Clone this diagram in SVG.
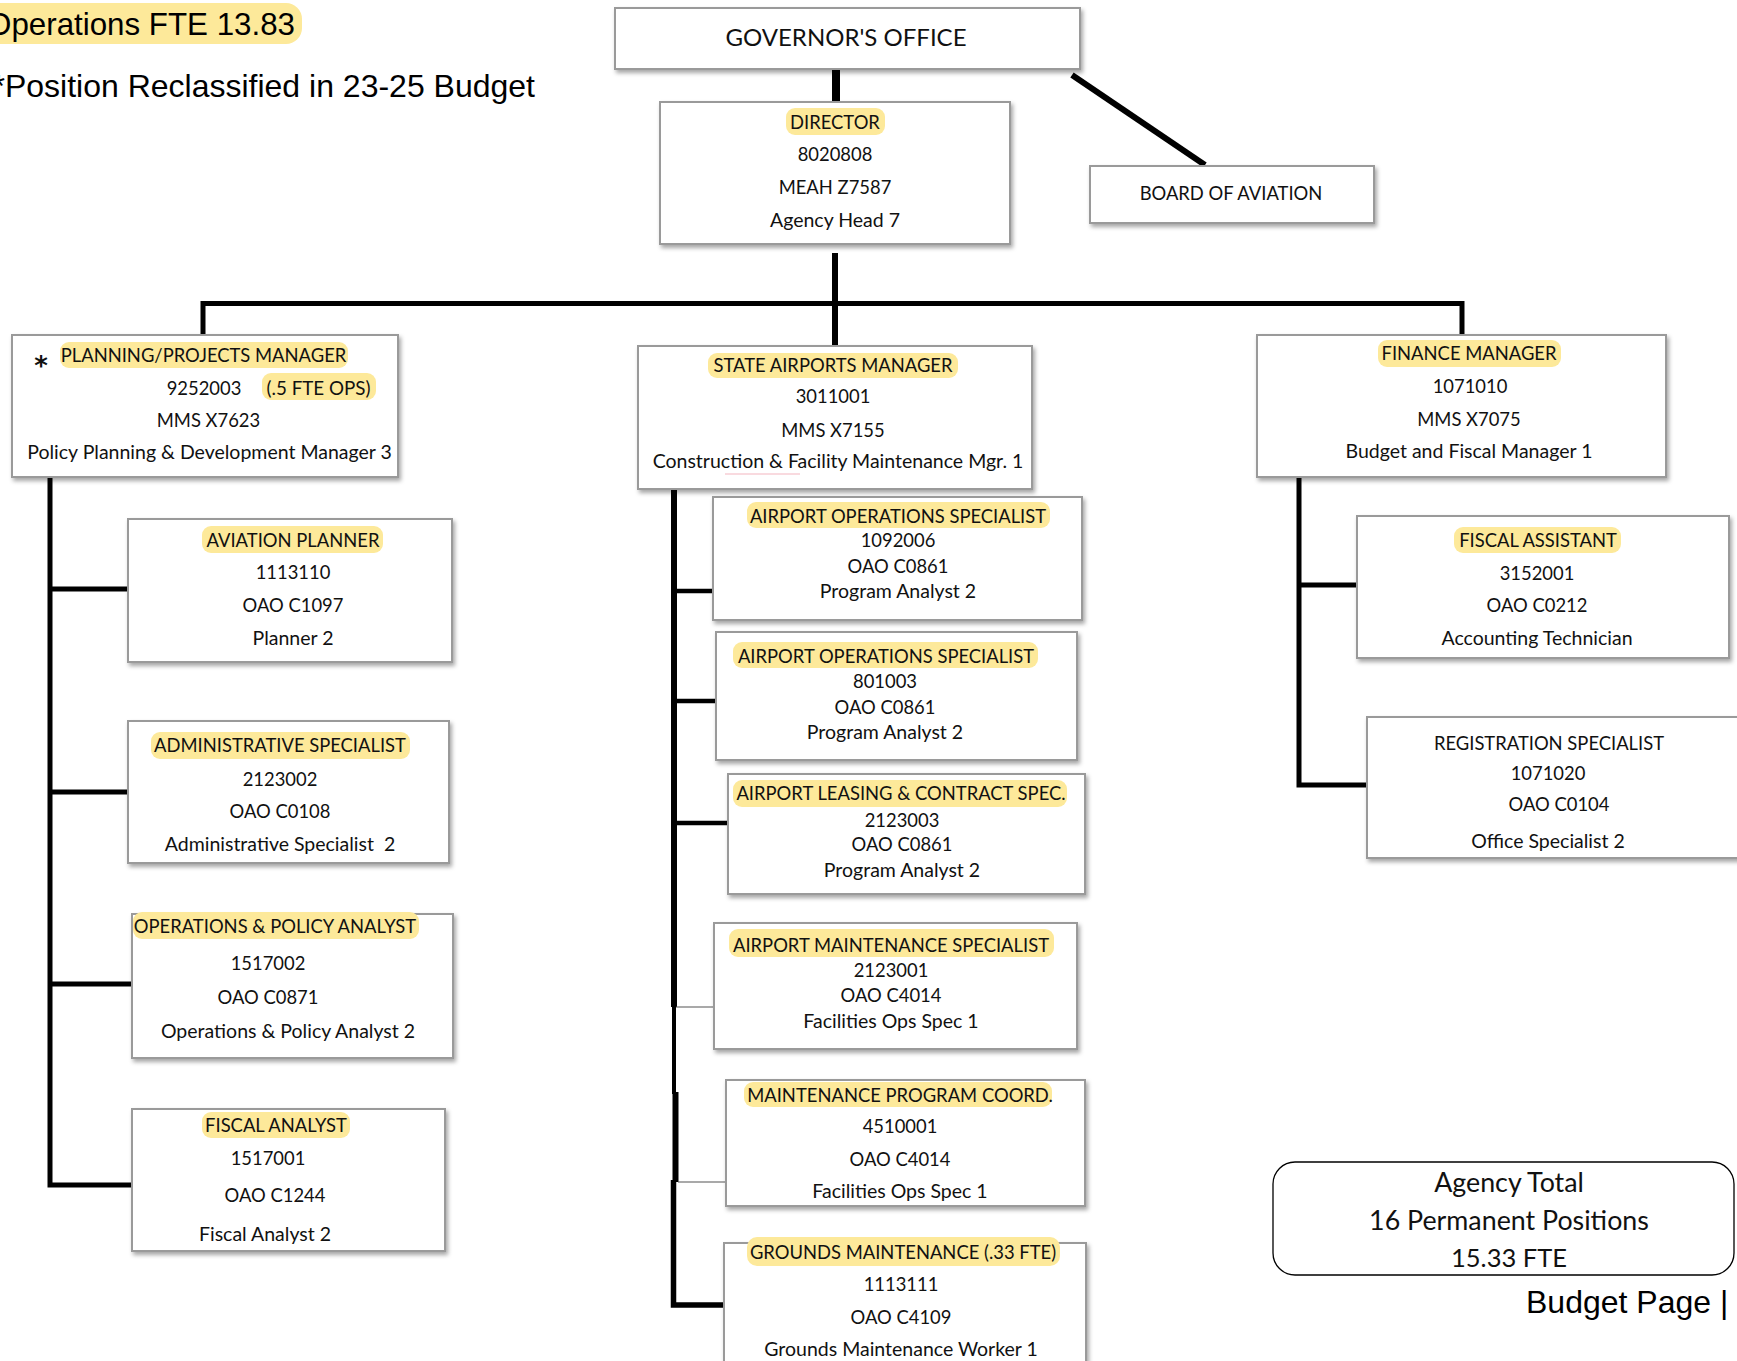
<svg xmlns="http://www.w3.org/2000/svg" width="1737" height="1361" viewBox="0 0 1737 1361">
<defs>
<filter id="sh" x="-5%" y="-5%" width="115%" height="125%">
<feDropShadow dx="2" dy="3" stdDeviation="2" flood-color="#000" flood-opacity="0.35"/>
</filter>
<style>
.box{fill:#fff;stroke:#9a9a9a;stroke-width:2;filter:url(#sh)}
.hl{fill:#fde99a}
.t{font-family:Lato,"Open Sans","Liberation Sans",sans-serif;font-size:18.4px;fill:#111;text-anchor:middle}
.m{font-family:Lato,"Open Sans","Liberation Sans",sans-serif;font-size:19.5px;fill:#111;text-anchor:middle}
.big{font-family:Lato,"Open Sans","Liberation Sans",sans-serif;font-size:26.8px;fill:#111;text-anchor:middle}
.ar{font-family:"Liberation Sans",Arial,sans-serif;fill:#000}
.ln{stroke:#000;fill:none}
</style>
</defs>
<rect width="1737" height="1361" fill="#fff"/>

<g id="notes">
<rect class="hl" x="-20" y="3" width="322" height="41" rx="16"/>
<text class="ar" x="295" y="35" font-size="31.3" text-anchor="end">Operations FTE 13.83</text>
<text class="ar" x="535" y="97" font-size="32" text-anchor="end">*Position Reclassified in 23-25 Budget</text>
<text class="ar" x="1526" y="1313" font-size="32">Budget Page |</text>
</g>

<g id="connectors">
<line class="ln" x1="836" y1="68" x2="836" y2="102" stroke-width="8"/>
<line class="ln" x1="1072" y1="75" x2="1205" y2="165" stroke-width="6"/>
<line class="ln" x1="835" y1="253" x2="835" y2="346" stroke-width="6"/>
<line class="ln" x1="203" y1="303.5" x2="1462" y2="303.5" stroke-width="5"/>
<line class="ln" x1="203" y1="301" x2="203" y2="335" stroke-width="5"/>
<line class="ln" x1="1462" y1="301" x2="1462" y2="335" stroke-width="5"/>
<polyline class="ln" points="50,477 50,1185 132,1185" stroke-width="5"/>
<line class="ln" x1="50" y1="589" x2="128" y2="589" stroke-width="5"/>
<line class="ln" x1="50" y1="792" x2="128" y2="792" stroke-width="5"/>
<line class="ln" x1="50" y1="984" x2="132" y2="984" stroke-width="5"/>
<line class="ln" x1="674" y1="484" x2="674" y2="1007" stroke-width="6"/>
<line class="ln" x1="674" y1="1005" x2="674" y2="1094" stroke-width="4"/>
<line class="ln" x1="675.5" y1="1092" x2="675.5" y2="1182" stroke-width="6"/>
<polyline class="ln" points="673.5,1180 673.5,1305 724,1305" stroke-width="5.5"/>
<line class="ln" x1="674" y1="591" x2="713" y2="591" stroke-width="4.5"/>
<line class="ln" x1="674" y1="701" x2="716" y2="701" stroke-width="4.5"/>
<line class="ln" x1="674" y1="823" x2="728" y2="823" stroke-width="4.5"/>
<line x1="676" y1="1007" x2="714" y2="1007" stroke="#555" stroke-width="1.2"/>
<line x1="678" y1="1182" x2="726" y2="1182" stroke="#555" stroke-width="1.2"/>
<polyline class="ln" points="1299,477 1299,785 1367,785" stroke-width="5"/>
<line class="ln" x1="1299" y1="585" x2="1357" y2="585" stroke-width="5"/>
</g>

<g id="governor">
<rect class="box" x="615" y="8" width="465" height="61"/>
<text class="big" x="846" y="46" style="font-size:24px">GOVERNOR'S OFFICE</text>
</g>

<g id="director">
<rect class="box" x="660" y="102" width="350" height="142"/>
<rect class="hl" x="786" y="108" width="99" height="27" rx="9"/>
<text class="t" x="835" y="129">DIRECTOR</text>
<text class="t" x="835" y="161">8020808</text>
<text class="t" x="835" y="194">MEAH Z7587</text>
<text class="m" x="835" y="227">Agency Head 7</text>
</g>

<g id="board">
<rect class="box" x="1090" y="166" width="284" height="57"/>
<text class="t" x="1231" y="200">BOARD OF AVIATION</text>
</g>

<g id="planning">
<rect class="box" x="12" y="335" width="386" height="142"/>
<rect class="hl" x="60" y="342" width="288" height="26" rx="9"/>
<rect class="hl" x="262" y="373" width="114" height="27" rx="9"/>
<text x="41" y="375" font-family="'DejaVu Sans',sans-serif" font-size="26" font-weight="bold" text-anchor="middle" fill="#111">*</text>
<text class="t" x="203.5" y="362">PLANNING/PROJECTS MANAGER</text>
<text class="t" x="204" y="395">9252003</text>
<text class="t" x="318.5" y="395" style="font-size:18.8px">(.5 FTE OPS)</text>
<text class="t" x="208.5" y="427">MMS X7623</text>
<text class="m" x="209.5" y="459">Policy Planning &amp; Development Manager 3</text>
</g>

<g id="state-airports">
<rect class="box" x="638" y="346" width="394" height="143"/>
<rect class="hl" x="708" y="353" width="250" height="25" rx="9"/>
<text class="t" x="833" y="372">STATE AIRPORTS MANAGER</text>
<text class="t" x="833" y="403">3011001</text>
<text class="t" x="833" y="437">MMS X7155</text>
<text class="m" x="838" y="468">Construction &amp; Facility Maintenance Mgr. 1</text>
<line x1="725" y1="474" x2="800" y2="474" stroke="#f3b6c0" stroke-width="1.2"/>
</g>

<g id="finance">
<rect class="box" x="1257" y="335" width="409" height="142"/>
<rect class="hl" x="1378" y="340" width="183" height="27" rx="9"/>
<text class="t" x="1469" y="360">FINANCE MANAGER</text>
<text class="t" x="1470" y="393">1071010</text>
<text class="t" x="1469" y="426">MMS X7075</text>
<text class="m" x="1469" y="458">Budget and Fiscal Manager 1</text>
</g>

<g id="aviation-planner">
<rect class="box" x="128" y="519" width="324" height="143"/>
<rect class="hl" x="202" y="526" width="181" height="27" rx="9"/>
<text class="t" x="293" y="547">AVIATION PLANNER</text>
<text class="t" x="293" y="579">1113110</text>
<text class="t" x="293" y="612">OAO C1097</text>
<text class="m" x="293" y="645">Planner 2</text>
</g>

<g id="admin-specialist">
<rect class="box" x="128" y="721" width="321" height="142"/>
<rect class="hl" x="151" y="732" width="259" height="27" rx="9"/>
<text class="t" x="280" y="752">ADMINISTRATIVE SPECIALIST</text>
<text class="t" x="280" y="786">2123002</text>
<text class="t" x="280" y="818">OAO C0108</text>
<text class="m" x="280" y="851" style="white-space:pre">Administrative Specialist  2</text>
</g>

<g id="ops-policy-analyst">
<rect class="box" x="132" y="914" width="321" height="144"/>
<rect class="hl" x="133" y="912" width="286" height="27" rx="9"/>
<text class="t" x="275" y="933">OPERATIONS &amp; POLICY ANALYST</text>
<text class="t" x="268" y="970">1517002</text>
<text class="t" x="268" y="1004">OAO C0871</text>
<text class="m" x="288" y="1038">Operations &amp; Policy Analyst 2</text>
</g>

<g id="fiscal-analyst">
<rect class="box" x="132" y="1109" width="313" height="142"/>
<rect class="hl" x="202" y="1112" width="148" height="26" rx="9"/>
<text class="t" x="276" y="1132">FISCAL ANALYST</text>
<text class="t" x="268" y="1165">1517001</text>
<text class="t" x="275" y="1202">OAO C1244</text>
<text class="m" x="265" y="1241">Fiscal Analyst 2</text>
</g>

<g id="airport-ops-1">
<rect class="box" x="713" y="497" width="369" height="123"/>
<rect class="hl" x="747" y="502" width="303" height="26" rx="9"/>
<text class="t" x="898" y="523">AIRPORT OPERATIONS SPECIALIST</text>
<text class="t" x="898" y="547">1092006</text>
<text class="t" x="898" y="573">OAO C0861</text>
<text class="m" x="898" y="598">Program Analyst 2</text>
</g>

<g id="airport-ops-2">
<rect class="box" x="716" y="632" width="361" height="128"/>
<rect class="hl" x="733" y="642" width="305" height="26" rx="9"/>
<text class="t" x="886" y="663">AIRPORT OPERATIONS SPECIALIST</text>
<text class="t" x="885" y="688">801003</text>
<text class="t" x="885" y="714">OAO C0861</text>
<text class="m" x="885" y="739">Program Analyst 2</text>
</g>

<g id="airport-leasing">
<rect class="box" x="728" y="774" width="357" height="120"/>
<rect class="hl" x="733" y="780" width="334" height="27" rx="9"/>
<text class="t" x="901" y="800">AIRPORT LEASING &amp; CONTRACT SPEC.</text>
<text class="t" x="902" y="827">2123003</text>
<text class="t" x="902" y="851">OAO C0861</text>
<text class="m" x="902" y="877">Program Analyst 2</text>
</g>

<g id="airport-maintenance">
<rect class="box" x="714" y="923" width="363" height="126"/>
<rect class="hl" x="729" y="929" width="325" height="28" rx="9"/>
<text class="t" x="891" y="952">AIRPORT MAINTENANCE SPECIALIST</text>
<text class="t" x="891" y="977">2123001</text>
<text class="t" x="891" y="1002">OAO C4014</text>
<text class="m" x="891" y="1028">Facilities Ops Spec 1</text>
</g>

<g id="maintenance-coord">
<rect class="box" x="726" y="1080" width="359" height="126"/>
<rect class="hl" x="744" y="1082" width="308" height="25" rx="9"/>
<text class="t" x="900" y="1102">MAINTENANCE PROGRAM COORD.</text>
<text class="t" x="900" y="1133">4510001</text>
<text class="t" x="900" y="1166">OAO C4014</text>
<text class="m" x="900" y="1198">Facilities Ops Spec 1</text>
</g>

<g id="grounds-maintenance">
<rect class="box" x="724" y="1243" width="362" height="140"/>
<rect class="hl" x="747" y="1237" width="313" height="29" rx="10"/>
<text class="t" x="903" y="1259">GROUNDS MAINTENANCE (.33 FTE)</text>
<text class="t" x="901" y="1291">1113111</text>
<text class="t" x="901" y="1324">OAO C4109</text>
<text class="m" x="901" y="1356">Grounds Maintenance Worker 1</text>
</g>

<g id="fiscal-assistant">
<rect class="box" x="1357" y="516" width="372" height="142"/>
<rect class="hl" x="1454" y="527" width="167" height="26" rx="9"/>
<text class="t" x="1538" y="547">FISCAL ASSISTANT</text>
<text class="t" x="1537" y="580">3152001</text>
<text class="t" x="1537" y="612">OAO C0212</text>
<text class="m" x="1537" y="645">Accounting Technician</text>
</g>

<g id="registration-specialist">
<rect class="box" x="1367" y="717" width="380" height="141"/>
<text class="t" x="1549" y="750">REGISTRATION SPECIALIST</text>
<text class="t" x="1548" y="780">1071020</text>
<text class="t" x="1559" y="811">OAO C0104</text>
<text class="m" x="1548" y="848">Office Specialist 2</text>
</g>

<g id="agency-total">
<rect x="1273" y="1162" width="461" height="113" rx="22" fill="#fff" stroke="#000" stroke-width="1.3"/>
<text class="big" x="1509" y="1192">Agency Total</text>
<text class="big" x="1509" y="1230">16 Permanent Positions</text>
<text class="big" x="1509" y="1267" style="font-size:25.5px">15.33 FTE</text>
</g>
</svg>
